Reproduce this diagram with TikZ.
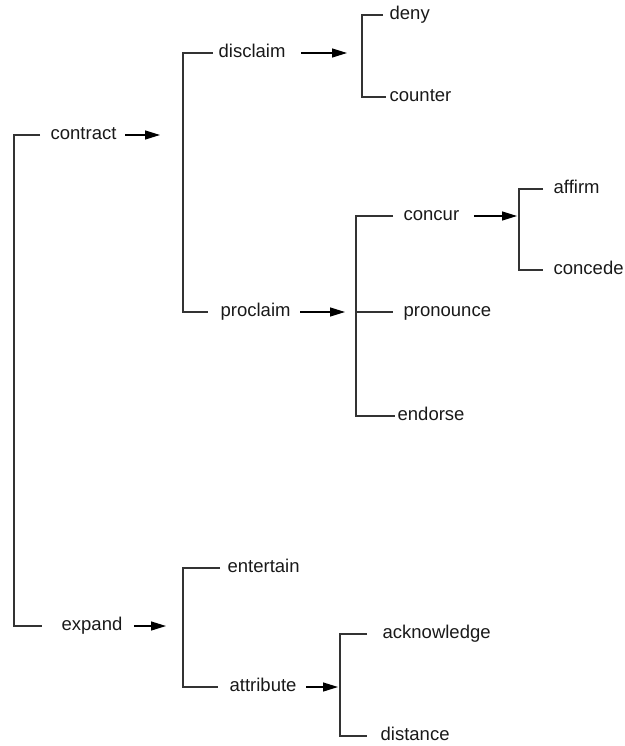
\documentclass[tikz,border=0pt]{standalone}
\usepackage{fontspec}
\setmainfont{Liberation Sans}
\usepackage{tikz}
\usetikzlibrary{arrows.meta}
\tikzset{
  lbl/.style={anchor=west,inner sep=0pt,text height=13.5pt,text depth=3.9pt,
    font=\fontsize{18.5}{22}\selectfont,text=black!90},
}
\begin{document}
\begin{tikzpicture}[x=1pt,y=-1pt,line width=1.3pt,color=black!80]
        \useasboundingbox (0,0) rectangle (624,746);
        \node[lbl] (contract) at (50,135) {contract};
        \node[lbl] (expand) at (61,626) {expand};
        \node[lbl] (disclaim) at (218,53) {disclaim};
        \node[lbl] (proclaim) at (220,312) {proclaim};
        \node[lbl] (deny) at (389,15) {deny};
        \node[lbl] (counter) at (389,97) {counter};
        \node[lbl] (concur) at (403,216) {concur};
        \node[lbl] (pronounce) at (403,312) {pronounce};
        \node[lbl] (endorse) at (397,416) {endorse};
        \node[lbl] (affirm) at (553,189) {affirm};
        \node[lbl] (concede) at (553,270) {concede};
        \node[lbl] (entertain) at (227,568) {entertain};
        \node[lbl] (attribute) at (229,687) {attribute};
        \node[lbl] (acknowledge) at (382,634) {acknowledge};
        \node[lbl] (distance) at (380,736) {distance};
        \coordinate (rootBar) at (14,380);
        \coordinate (contractBar) at (183,180);
        \coordinate (disclaimBar) at (362,55);
        \coordinate (proclaimBar) at (356,312);
        \coordinate (concurBar) at (519,230);
        \coordinate (expandBar) at (183,620);
        \coordinate (attributeBar) at (340,690);
        \draw[shorten <=10pt,shorten >=19pt] (contract.west) -| (rootBar) |- (expand.west);
        \draw[shorten <=5pt,shorten >=12pt] (disclaim.west) -| (contractBar) |- (proclaim.west);
        \draw[shorten <=6pt,shorten >=3pt] (deny.west) -| (disclaimBar) |- (counter.west);
        \draw[shorten <=10pt,shorten >=2pt] (concur.west) -| (proclaimBar) |- (endorse.west);
        \draw[shorten >=10pt] (proclaimBar) -- (pronounce.west);
        \draw[shorten <=10pt,shorten >=10pt] (affirm.west) -| (concurBar) |- (concede.west);
        \draw[shorten <=7pt,shorten >=11pt] (entertain.west) -| (expandBar) |- (attribute.west);
        \draw[shorten <=15pt,shorten >=13pt] (acknowledge.west) -| (attributeBar) |- (distance.west);
        \coordinate (contractTip) at (160,135);
        \coordinate (disclaimTip) at (347,53);
        \coordinate (proclaimTip) at (345,312);
        \coordinate (concurTip) at (517,216);
        \coordinate (expandTip) at (166,626);
        \coordinate (attributeTip) at (338,687);
        \begin{scope}[->,>={Triangle[length=15pt,width=9pt]},black]
            \draw[shorten <=8pt] (contract.east) -- (contractTip);
            \draw[shorten <=15pt] (disclaim.east) -- (disclaimTip);
            \draw[shorten <=9pt] (proclaim.east) -- (proclaimTip);
            \draw[shorten <=14pt] (concur.east) -- (concurTip);
            \draw[shorten <=11pt] (expand.east) -- (expandTip);
            \draw[shorten <=9pt] (attribute.east) -- (attributeTip);
        \end{scope}
    \end{tikzpicture}
\end{document}
